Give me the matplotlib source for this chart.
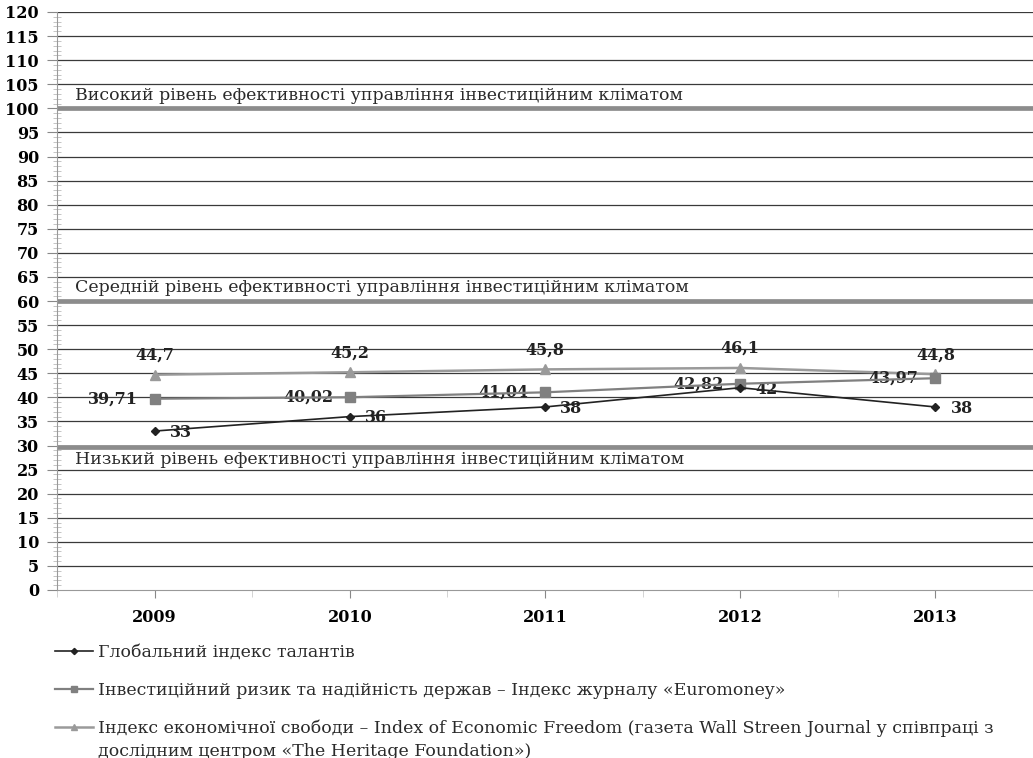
import numpy as np
import matplotlib.pyplot as plt
from matplotlib.ticker import MultipleLocator

plt.rcParams['font.family'] = ['DejaVu Serif']

# Дані
roky = ['2009', '2010', '2011', '2012', '2013']
talanty = [33, 36, 38, 42, 38]
euromoney = [39.71, 40.02, 41.04, 42.82, 43.97]
svoboda = [44.7, 45.2, 45.8, 46.1, 44.8]

rivni = [100, 60, 29.7]
rivni_tekst = ['Високий рівень ефективності управління інвестиційним кліматом',
               'Середній рівень ефективності управління інвестиційним кліматом',
               'Низький рівень ефективності управління інвестиційним кліматом']

nazvy = ['Глобальний індекс талантів',
         'Інвестиційний ризик та надійність держав – Індекс журналу «Euromoney»',
         'Індекс економічної свободи – Index of Economic Freedom (газета Wall Streen Journal у співпраці з']
nazva_dali = 'дослідним центром «The Heritage Foundation»)'

fig = plt.figure(figsize=(10.33, 7.58), dpi=100)
ax = fig.add_axes([57/1033, 1 - 590/758, 1 - 57/1033, 578/758])

x = np.arange(len(roky))

# сітка
for v in range(5, 125, 5):
    ax.axhline(v, color='#3a3a3a', lw=0.9, zorder=1)

# рівні ефективності
for r in rivni:
    ax.axhline(r, color='#8c8c8c', lw=3.4, zorder=2)
for r, t, dy in zip(rivni, rivni_tekst, [1.0, 1.0, -0.9]):
    va = 'bottom' if dy > 0 else 'top'
    ax.text(-0.41, r + dy, t, fontsize=12.5, va=va, ha='left', color='#2a2a2a', zorder=3)

l1, = ax.plot(x, talanty, color='#222222', marker='D', markersize=4.5, lw=1.2, zorder=5)
l2, = ax.plot(x, euromoney, color='#808080', marker='s', markersize=7, lw=1.6, zorder=4)
l3, = ax.plot(x, svoboda, color='#9a9a9a', marker='^', markersize=7, lw=1.8, zorder=3)

def fmt(v):
    return ('%g' % v).replace('.', ',')

for xi, v in zip(x, talanty):
    ax.annotate(fmt(v), (xi, v), xytext=(11, -1), textcoords='offset points',
                ha='left', va='center', fontsize=11.5, fontweight='bold', color='#222222')
for xi, v in zip(x, euromoney):
    ax.annotate(fmt(v), (xi, v), xytext=(-12, 0), textcoords='offset points',
                ha='right', va='center', fontsize=11.5, fontweight='bold', color='#222222')
for xi, v in zip(x, svoboda):
    ax.annotate(fmt(v), (xi, v), xytext=(0, 8), textcoords='offset points',
                ha='center', va='bottom', fontsize=11.5, fontweight='bold', color='#222222')

ax.set_xlim(-0.5, 4.5)
ax.set_ylim(0, 120)
ax.set_xticks(x)
ax.set_xticklabels(roky, fontsize=11.5, fontweight='bold')
ax.set_xticks(np.arange(-0.5, 4.6, 1), minor=True)
ax.yaxis.set_major_locator(MultipleLocator(5))
ax.yaxis.set_minor_locator(MultipleLocator(1))
for lab in ax.get_yticklabels():
    lab.set_fontweight('bold')
    lab.set_fontsize(11.5)
ax.tick_params(axis='y', which='major', length=7, color='#888888', pad=6)
ax.tick_params(axis='y', which='minor', length=6, direction='inout', color='#bbbbbb')
ax.tick_params(axis='x', which='major', length=6, color='#888888', pad=8)
ax.tick_params(axis='x', which='minor', length=5, color='#cccccc')
for s in ['top', 'right']:
    ax.spines[s].set_visible(False)
ax.spines['left'].set_color('#999999')
ax.spines['bottom'].set_color('#999999')

fig.legend([l1, l2, l3], nazvy, loc='upper left', bbox_to_anchor=(55/1033, 1 - 644/758),
           frameon=False, fontsize=12.5, handlelength=2.2, handletextpad=0.3,
           labelspacing=1.2, borderaxespad=0, borderpad=0, markerscale=0.7,
           labelcolor='#2a2a2a')
fig.text(98/1033, 1 - 751/758, nazva_dali, fontsize=12.5, va='center', ha='left', color='#2a2a2a')

fig.savefig('out.png', dpi=100)
